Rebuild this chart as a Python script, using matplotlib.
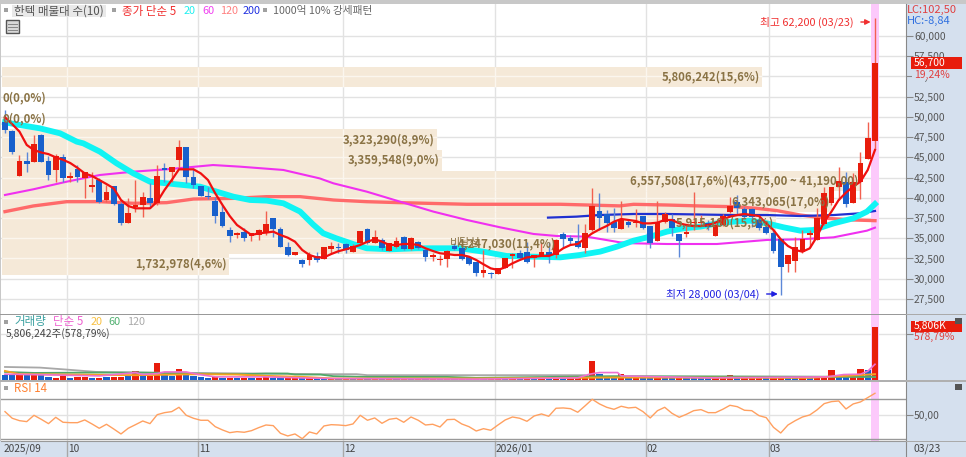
import matplotlib
matplotlib.use("Agg")
import matplotlib.pyplot as plt
from matplotlib.patches import Rectangle

plt.rcParams['font.family'] = ['Noto Sans CJK KR', 'DejaVu Sans']

W, H = 966, 457

opens = [49330,48260,42740,44590,44470,47760,44590,43440,45080,42490,
         43520,42400,41380,42200,39730,41460,39230,36930,38820,39110,
         39930,39400,43640,43230,44670,46320,42610,41460,40220,39600,
         38290,36020,35360,35730,35320,35440,35730,37460,36180,33960,
         32890,32310,32310,32800,32400,33720,33960,34250,33340,34375,
         36190,34455,34790,33430,33880,35115,33630,34540,33550,32725,
         32270,32400,34045,33760,32725,32020,30665,30665,30580,31280,
         32850,33220,33340,32520,32810,33340,32930,35530,35075,34660,
         33760,36020,38410,38000,37050,36145,37050,36840,37750,36520,
         34660,36970,37380,35530,35530,36840,36840,36930,35280,36640,
         38250,39500,38580,38580,37250,36350,35690,34870,31820,32230,
         33340,35445,34790,36720,39320,41380,42000,39320,42000,44800,
         47000]
highs = [50850,48380,45290,45700,47760,47850,45165,45410,45410,43230,
         44050,43230,43230,42400,41580,41460,39520,39930,42200,40760,
         41790,44050,44260,43850,47140,46320,43640,41460,41290,40140,
         39110,36430,35815,36230,35610,36100,38410,37460,36430,34580,
         33340,32390,33340,33340,33880,34580,34460,34460,34290,35900,
         36230,36020,34990,34375,35200,35320,35200,34660,33760,33220,
         32930,33550,34375,33880,32810,32100,33550,30870,31280,32520,
         33140,33550,34580,32890,34580,34580,34870,35815,35400,36720,
         36760,41250,40550,38500,38700,39650,37340,38620,37750,36520,
         39600,38290,38000,35530,36640,40760,37860,37260,36850,38000,
         40140,40350,38900,38700,37670,36640,36020,34870,32890,35200,
         36020,36020,38700,41380,41380,43850,43150,43030,45700,49370,
         62200]
lows = [47970,45415,42740,43230,44470,44380,42200,41990,41990,41990,
        41990,39930,40760,39400,39520,39110,36640,36930,38290,37590,
        38700,39110,41990,41990,43640,41870,41170,40220,39850,36840,
        36430,34500,34990,34700,34700,34780,35400,35200,33880,32850,
        32890,31400,31690,32100,32400,33220,33220,33220,33340,34290,
        34290,34375,33550,33430,33760,33550,33550,33630,32230,32230,
        31700,31490,33550,32320,31700,30380,30250,30130,30580,31280,
        31280,32320,31900,31490,32810,31900,32600,33760,34170,33760,
        33140,35940,36020,35815,35815,36100,36430,36430,36100,33750,
        34660,36850,35280,32730,35120,36000,36640,36020,35280,36520,
        38160,37870,37460,36350,36020,35530,33140,28000,30870,30870,
        33140,33960,34790,36640,39110,39730,38900,39320,39810,44800,
        46040]
closes = [48380,45700,44590,44140,46650,44470,42820,45165,42400,42695,
          42530,43150,41580,39520,40760,39230,36930,38160,39150,40140,
          39400,42740,43440,43850,46240,42610,41580,40220,40060,37790,
          36515,35280,35610,35070,35610,36020,36720,36180,33960,32930,
          33340,31820,32930,32310,33880,34000,33840,33550,34000,35900,
          34375,35115,33760,34375,34660,33630,34990,33760,32725,32890,
          32435,33430,33630,32400,31820,30665,31080,30540,31280,32520,
          33050,32600,32020,32890,33340,32930,34790,34870,34660,33880,
          35690,38990,37550,36850,36310,37340,36640,37050,36230,34375,
          36970,38000,36230,34700,35730,37050,37050,36350,36640,37750,
          38990,38700,37670,37590,36230,35690,33420,31490,32890,33960,
          34870,35610,37460,40550,41380,42120,39240,42000,44340,47390,
          56700]

ma5 = [49950,49100,48180,46530,45900,45600,45400,45000,44700,44300,
       43700,43020,42700,42200,41700,41170,39730,38990,38700,38700,
       38700,39520,40960,42200,43520,43520,43520,43020,42200,40550,
       39110,37750,36640,36020,35400,35610,35700,35815,35400,35070,
       34580,33550,32930,32640,32640,33050,33400,33630,33880,34170,
       34580,34870,34580,34170,34170,34290,34290,34170,33760,33430,
       33140,33050,32930,32930,32725,32310,31780,31280,31080,31410,
       31900,32310,32640,32725,32810,32810,33140,33760,34170,34290,
       34990,35610,36100,36520,37050,37380,37260,37130,36840,36840,
       36930,37260,37260,36840,36640,36500,36500,36640,36930,37340,
       37670,37870,38000,37870,37750,36840,36020,34870,34040,33550,
       33340,33750,35200,37050,38290,39730,40640,41380,42000,43440,
       45910]
ma20_x = [0,2,4.8,7.6,9.9,10.8,13.1,15.4,17.7,20,22.3,24.6,26.9,29.2,31.5,33.8,36.1,38.4,40.7,42.5,
          43.9,45.7,48,49.9,53.1,56.8,62.8,66,69.2,72.9,76.6,79.3,82.1,84.4,86.7,89,91.3,93.6,95.9,98.2,
          100.5,102.8,105.1,107.4,109.7,111.5,114.3,117,118.9,120]
ma20_y = [49330,49000,48590,47970,46940,46730,45700,44260,43020,41990,41790,41580,41380,40760,40140,39730,39650,39320,38300,36700,
          35610,34990,34290,33760,33630,33760,33760,33340,32810,32725,32640,32930,33350,33960,34700,35200,35815,36230,36435,36840,
          37050,37170,36840,36350,35940,36020,36840,37460,38290,39230]
ma60_x = [0,3.9,8.5,13.1,17.7,22.3,28.7,32.4,38.4,43.4,45.3,49.9,54.5,59.1,63.7,68.3,72.9,76.1,80.2,84.8,86.7,91.3,98.2,105.1,109.7,114.3,118.9,120]
ma60_y = [40350,41050,41990,42820,43230,43520,44050,43850,43440,42400,41790,40760,39520,38290,37260,36350,35530,35280,35200,34500,34375,34290,34290,34790,34870,35115,35940,36310]
ma120_x = [0,3.9,8.5,13.1,17.7,22.3,26,31.5,36.1,40.7,45.3,49.9,54.5,63.7,72.9,76.6,84.8,86.7,91.3,95.9,100.5,103.7,106.5,109.7,113.4,117,120]
ma120_y = [38290,38990,39520,39520,39320,39400,39850,39930,40140,40140,39730,39520,39400,39200,39200,39200,39000,39195,39110,38990,38900,38700,38410,37870,37460,37260,37175]
ma200_x = [74.9,78.8,82,86.7,91.3,100.5,105.1,109.7,114.3,117.9,120]
ma200_y = [37550,37670,37870,38000,38000,37870,37870,37750,37870,38080,38370]

volumes_k = [477,477,660,477,587,477,257,220,367,220,
             293,293,183,220,330,293,293,367,917,403,
             403,1833,660,403,1210,477,367,257,183,293,
             183,183,147,147,147,183,367,220,147,183,
             293,147,183,147,130,183,130,183,130,147,
             130,147,130,160,130,147,130,147,130,147,
             130,147,130,147,130,147,147,130,147,130,
             147,130,147,130,147,130,147,130,147,220,
             477,2017,587,403,220,660,183,220,147,147,
             220,183,147,183,147,130,147,183,183,220,
             550,220,183,183,220,147,183,220,147,147,
             183,147,220,440,1027,403,477,550,1137,1027,
             5806]
vol_colors = ("BBRBRBBRRB" "RRBRBRRBRB" "RRBBRBBBBR" "BRBRBRRBBR"
              "RBRBBRBRBR" "BRBRBRBRBR" "BRBRBRBRRB" "RBRBRBRBRR"
              "RRBBBRBRBB" "RBBRBBBBRR" "RBRRRBRRBB" "RBRRRBBRRB" "R")
v120_x = [0,4.8,8.5,12.6,17.7,36,43.5,48.5,50,80,80.6,120]
v120_y = [1390,1320,1100,840,770,660,590,590,480,480,300,300]
v60_x = [0,4,13,19,26,33,36,39,40,43.5,45.3,50,61,65,84,120]
v60_y = [840,730,770,770,660,590,660,660,550,550,370,290,290,183,370,290]
v20_x = [0,2,8.5,18,27,32,36,41,45.3,65,84,111,120]
v20_y = [950,590,550,480,590,550,400,290,110,110,220,183,590]
v5_x = [0,4,13,18,19,21,22,25,26.5,29,36,40.7,45,65,79,80.6,82,84.5,85,97,113.4,115.7,118,119,120]
v5_y = [590,550,400,770,550,660,840,840,590,290,290,183,110,40,183,587,770,770,403,183,293,550,590,917,1687]

rsi = [54.6,46.3,43.3,42.1,50,45,39.6,47.5,41.3,40.8,40.8,44.2,39.2,33.8,38.8,32.9,26.7,33.8,38.3,42.9,
       39.6,50.8,53.3,54.6,60,50,46.3,43.8,43.8,35.8,31.7,28.3,29.6,28.8,30.8,34.6,37.9,37.1,27.5,24.2,
       26.7,20.8,29.2,26.7,36.7,38.3,37.9,37.1,39.2,50,43.8,46.7,40,45,46.3,41.3,47.9,43.8,37.9,38.8,
       35.4,44.6,45,39.2,35.8,30.4,33.3,31.3,37.9,44.2,47.9,46.3,42.5,49.2,51.7,48.8,58.8,59.2,58.3,53.8,
       61.7,70,64.2,60,57.5,61.3,59.2,60,54.6,46.7,55.8,60,52.5,47.5,51.3,55.8,57.1,53.3,53.3,57.5,
       62.5,60.8,56.3,55.8,49.6,47.1,35,27.9,37.9,43.3,47.9,50.4,56.7,64.6,67.1,67.9,57.9,64.2,66.7,72.1,77.5]

band_vol = [5806242,0,0,3323290,3359548,6557508,6343065,5915180,4247030,1732978]
band_pct = ["15,6","0,0","0,0","8,9","9,0","17,6","17,0","15,9","11,4","4,6"]
band_suffix = {5: "(43,775,00 ~ 41,190,00)"}
band_top_price = 56206
band_step_price = 2571

month_idx = [-0.35,8.55,26.6,46.6,67.6,88.4,105.4]
month_lbl = ["2025/09","10","11","12","2026/01","02","03"]
price_ticks = list(range(27500, 60001, 2500))

RED, BLUE = '#E81C0C', '#1860CC'
RED_W, BLUE_W = '#F2604F', '#5C88D8'
BG = '#D5E0EE'
GRID = '#E2E2E2'
DARK = '#999999'
BEIGE = '#F5E9D8'
LBL = '#8A7345'

fig = plt.figure(figsize=(W/100, H/100), dpi=100, facecolor='white')

def rect(l, t, r, b):
    return [l/W, 1-b/H, (r-l)/W, (b-t)/H]

def frect(l, t, r, b, fc, z=0.5, ec='none', lw=0):
    p = Rectangle((l/W, 1-b/H), (r-l)/W, (b-t)/H, transform=fig.transFigure,
                  facecolor=fc, edgecolor=ec, linewidth=lw, zorder=z)
    fig.add_artist(p)

def ftext(x, y, s, **kw):
    kw.setdefault('va', 'center')
    kw.setdefault('ha', 'left')
    kw.setdefault('fontsize', 7.3)
    kw.setdefault('zorder', 10)
    fig.text(x/W, 1-y/H, s, **kw)

# chrome behind axes
frect(906, 4, 966, 457, BG)
frect(0, 0, 966, 3.5, '#C8C8C8')
frect(0, 0, 1.5, 457, '#C8C8C8')
frect(0, 441, 966, 457, BG)

XL = (-0.55, 124.28)
idx = list(range(len(closes)))

def panel(t, b):
    a = fig.add_axes(rect(1, t, 906, b), facecolor='white', zorder=2)
    a.set_xlim(*XL)
    for s in ['top', 'left', 'bottom']:
        a.spines[s].set_visible(False)
    a.spines['right'].set_color('#888888')
    a.set_xticks(month_idx[1:])
    a.tick_params(axis='x', length=0, labelbottom=False)
    a.grid(axis='x', color=GRID, lw=1, zorder=0)
    a.set_axisbelow(True)
    a.yaxis.tick_right()
    a.axvspan(119.5, 120.5, color='#FCC9FB', lw=0, zorder=1.5)
    return a

# price panel
ax = panel(4, 314)
ax.set_ylim(25637, 63955)
ax.set_yticks(price_ticks)
ax.set_yticklabels([f"{v:,}" for v in price_ticks], color='#555555', fontsize=7.4)
ax.tick_params(axis='y', length=4.7, width=0.8, color='#888888', pad=1)
ax.grid(axis='y', color=GRID, lw=1, zorder=0)

SHARES_PER_IDX = 7640 * 7.25
LEFT = -0.41
for k, v in enumerate(band_vol):
    lo = band_top_price - band_step_price * (k + 1)
    hi = band_top_price - band_step_price * k
    wid = v / SHARES_PER_IDX
    if v:
        ax.barh(lo, wid, height=hi-lo, left=LEFT, align='edge', color=BEIGE, lw=0, zorder=1)
        for tk in price_ticks:
            if lo < tk < hi:
                ax.hlines(tk, LEFT, LEFT+wid, color='#FBF6EE', lw=1, zorder=1.2)
        for m in month_idx[1:]:
            if m < LEFT+wid:
                ax.vlines(m, lo, hi, color='#FBF6EE', lw=1, zorder=1.2)

for i in idx:
    up = closes[i] >= opens[i]
    ax.vlines(i, lows[i], highs[i], color=RED_W if up else BLUE_W, lw=1, zorder=3)
    ax.bar(i, abs(closes[i]-opens[i]), bottom=min(opens[i], closes[i]), width=0.78,
           color=RED if up else BLUE, lw=0, zorder=3.1)

ax.plot(ma120_x, ma120_y, color='#FF6A6A', lw=2.4, zorder=2.6)
ax.plot(ma60_x, ma60_y, color='#F030F0', lw=1.5, zorder=2.7)
ax.plot(ma200_x, ma200_y, color='#2030D0', lw=1.6, zorder=2.75)
ax.plot(ma20_x, ma20_y, color='#10F4F4', lw=4.2, zorder=2.8)
ax.plot(idx, ma5, color='#F01010', lw=1.6, zorder=3.3)

for k, v in enumerate(band_vol):
    mid = band_top_price - band_step_price * (k + 0.5)
    label = f"{v:,}({band_pct[k]}%)" + band_suffix.get(k, "")
    if v:
        ax.text(LEFT + v/SHARES_PER_IDX - 0.3, mid, label, ha='right', va='center',
                color=LBL, fontsize=8.2, fontweight='bold', zorder=5)
    else:
        ax.text(LEFT, mid, label, ha='left', va='center', color=LBL, fontsize=8.2,
                fontweight='bold', zorder=5)
ax.text(61.3, band_top_price - band_step_price * 8.5, "비달성", ha='left', va='center',
        color=LBL, fontsize=8, zorder=5)

ax.annotate("최고 62,200 (03/23)", xy=(119.4, 61730), xytext=(117.1, 61730), ha='right', va='center',
            color='#F03030', fontsize=7.8, zorder=6,
            arrowprops=dict(arrowstyle='-|>', color='#F03030', lw=1, shrinkA=3, shrinkB=0))
ax.annotate("최저 28,000 (03/04)", xy=(106.6, 28110), xytext=(104.1, 28110), ha='right', va='center',
            color='#2020E0', fontsize=7.8, zorder=6,
            arrowprops=dict(arrowstyle='-|>', color='#2020E0', lw=1, shrinkA=3, shrinkB=0))

# volume panel
vax = panel(315, 380.5)
vax.set_ylim(-110, 7150)
vax.set_yticks([5000])
vax.set_yticklabels([""])
vax.tick_params(axis='y', length=4.7, width=0.8, color='#888888')
vax.grid(axis='y', color=GRID, lw=1, zorder=0)
vcol = [RED if c == 'R' else BLUE for c in vol_colors]
vax.bar(idx, volumes_k, width=0.88, color=vcol, lw=0, zorder=3)
vax.plot(v120_x, v120_y, color='#A8A8A8', lw=1.3, zorder=4)
vax.plot(v60_x, v60_y, color='#4FA868', lw=1.3, zorder=4.1)
vax.plot(v20_x, v20_y, color='#F6A020', lw=1.4, zorder=4.2)
vax.plot(v5_x, v5_y, color='#EE70D0', lw=1.2, zorder=4.3)

# RSI panel
rax = panel(382, 441)
rax.set_ylim(17.9, 91.6)
rax.set_yticks([50])
rax.set_yticklabels(["50,00"], color='#555555', fontsize=7.4)
rax.tick_params(axis='y', length=4.7, width=0.8, color='#888888', pad=1)
rax.axhline(50, color=GRID, lw=1, zorder=0.5)
rax.axhline(70, color=DARK, lw=1, zorder=2)
rax.axhline(20, color=DARK, lw=1, zorder=2)
rax.plot(idx, rsi, color='#FFA060', lw=1, zorder=3)

# date band
dax = fig.add_axes(rect(1, 441, 906, 457), facecolor=BG, zorder=2)
dax.set_xlim(*XL)
dax.set_ylim(0, 1)
dax.set_xticks(month_idx[1:])
dax.set_yticks([])
dax.tick_params(axis='x', length=0, labelbottom=False)
dax.grid(axis='x', color='#A8A8A8', lw=1)
for s in dax.spines.values():
    s.set_visible(False)
dax.spines['top'].set_visible(True)
dax.spines['top'].set_color('#999999')
dax.spines['right'].set_visible(True)
dax.spines['right'].set_color('#888888')
for m, lbl in zip(month_idx, month_lbl):
    dax.text(m + 0.12, 0.5, lbl, ha='left', va='center', color='#444444', fontsize=7.3)

# separators
frect(0, 314.2, 906, 315.2, DARK, z=5)
frect(0, 380.2, 966, 381.6, '#B0B0B0', z=5)
frect(906, 314.2, 966, 315.2, '#AAAAAA', z=5)
frect(906, 441, 966, 442, '#AAAAAA', z=5)

# legend row
frect(12, 5, 105.5, 17, '#E9E9E9', z=5)
for x0, y0 in [(4, 8), (112, 8), (263, 8), (4, 320), (4, 386)]:
    frect(x0, y0, x0+4, y0+4, '#A0A0A0', z=6)
ftext(14, 11, "한텍 매물대 수(10)", color='#555555', fontsize=8.3)
ftext(122, 11, "종가 단순 5", color='#F03030', fontsize=8.3)
ftext(184, 11, "20", color='#20F0F0', fontsize=7.8)
ftext(202, 11, "60", color='#F040F0', fontsize=7.8)
ftext(220, 11, "120", color='#FF8080', fontsize=7.8)
ftext(243, 11, "200", color='#2030E0', fontsize=7.8)
ftext(273, 11, "1000억 10% 강세패턴", color='#666666', fontsize=7.7)
ftext(14, 322, "거래량", color='#3AA0A0', fontsize=8.3)
ftext(53, 322, "단순 5", color='#EE60D0', fontsize=8.3)
ftext(91, 322, "20", color='#F8C040', fontsize=7.8)
ftext(108, 322, "60", color='#50B070', fontsize=7.8)
ftext(127, 322, "120", color='#AAAAAA', fontsize=7.8)
ftext(6, 334, "5,806,242주(578,79%)", color='#444444', fontsize=7.5)
ftext(14, 388, "RSI 14", color='#FF8030', fontsize=8.3)

# table icon
frect(6, 20, 18.7, 32.7, '#D8D8D8', z=6, ec='#555555', lw=1)
for fx in (9.5, 12.5, 15.5):
    frect(fx, 22.5, fx+0.6, 31, '#888888', z=7)
for fy in (24, 27, 30):
    frect(7.5, fy, 17.5, fy+0.6, '#888888', z=7)

# right column texts
ftext(907, 10, "LC:102,50", color='#E04040', fontsize=8)
ftext(907, 20.7, "HC:-8,84", color='#3070E0', fontsize=8)
frect(910.7, 57.3, 962, 69, '#E81C0C', z=8)
ftext(914, 63, "56,700", color='white', fontsize=7.5)
frect(912, 69, 948, 79.5, BG, z=8)
ftext(914, 74.5, "19,24%", color='#E04040', fontsize=7.5)
frect(910.7, 320.7, 961.7, 331.7, '#E81C0C', z=8)
ftext(914, 326.2, "5,806K", color='white', fontsize=7.5)
ftext(914, 337, "578,79%", color='#E04040', fontsize=7.5)
ftext(914, 449, "03/23", color='#444444', fontsize=7.5)
for y0 in (318, 384):
    frect(955, y0, 961.7, y0+5.5, '#555555', z=8)

fig.savefig("out.png", dpi=100)
